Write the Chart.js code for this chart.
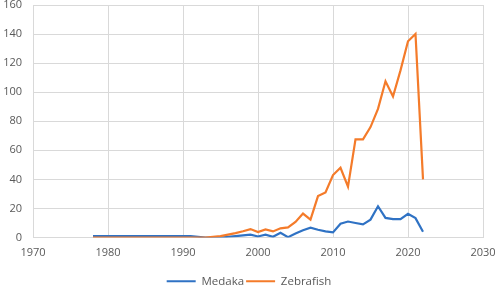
<!DOCTYPE html>
<html>
<head>
<meta charset="utf-8">
<script src="https://cdn.jsdelivr.net/npm/chart.js@4/dist/chart.umd.min.js"></script>
<style>
  html, body { margin: 0; padding: 0; background: #fff; }
  .chart-box { width: 498px; height: 287px; }
</style>
</head>
<body>
<div class="chart-box"><canvas id="chart"></canvas></div>
<script>
const years = [1978, 1979, 1980, 1981, 1982, 1983, 1984, 1985, 1986, 1987, 1988, 1989,
    1990, 1991, 1992, 1993, 1994, 1995, 1996, 1997, 1998, 1999, 2000, 2001, 2002, 2003,
    2004, 2005, 2006, 2007, 2008, 2009, 2010, 2011, 2012, 2013, 2014, 2015, 2016, 2017,
    2018, 2019, 2020, 2021, 2022];

const medaka = [1, 1, 1, 1, 1, 1, 1, 1, 1, 1, 1, 1,
    1, 1, 0.5, 0, 0, 0, 0.5, 1, 1.5, 2, 0.7, 2, 0.5, 3.3,
    0.2, 2.8, 5, 6.7, 5.3, 4.2, 3.5, 9.5, 11, 10, 9, 12.3, 21.5, 13.5,
    12.6, 12.6, 16.3, 13.3, 4];

const zebrafish = [0, 0, 0, 0, 0, 0, 0, 0, 0, 0, 0, 0,
    0, 0, 0, 0, 0.5, 1, 2, 3, 4.3, 5.8, 3.7, 5.6, 4.2, 6.3,
    7, 10.7, 16.5, 12.3, 28.5, 31, 43, 48, 35, 67.5, 67.5, 76, 88.5, 107.5,
    97, 115, 135, 140, 40];

const xTicks = [1970, 1980, 1990, 2000, 2010, 2020, 2030];

const toPoints = (values) => values.map((v, i) => ({ x: years[i], y: v }));

const ctx = document.getElementById('chart').getContext('2d');
const tickFont = { family: 'Open Sans', size: 11 };

new Chart(ctx, {
    type: 'line',
    data: {
        datasets: [
            {
                label: 'Medaka',
                data: toPoints(medaka),
                borderColor: '#2F72C4',
                backgroundColor: '#2F72C4',
                borderWidth: 2.2,
                pointRadius: 0,
                tension: 0,
                order: 1,
            }, {
                label: 'Zebrafish',
                data: toPoints(zebrafish),
                borderColor: '#F47B2A',
                backgroundColor: '#F47B2A',
                borderWidth: 2.2,
                pointRadius: 0,
                tension: 0,
                order: 0,
            },
        ]
    },
    options: {
        responsive: true,
        maintainAspectRatio: false,
        animation: false,
        layout: { padding: { top: 2, right: 2, left: 2, bottom: -10 } },
        scales: {
            x: {
                type: 'linear',
                min: 1970,
                max: 2030,
                afterBuildTicks: (scale) => {
                    scale.ticks = xTicks.map((v) => ({ value: v }));
                },
                afterFit: (scale) => {
                    scale.height = 36;
                    scale.paddingRight = 15;
                },
                grid: { color: '#d9d9d9', drawTicks: false },
                border: { color: '#d9d9d9' },
                ticks: { color: '#595959', font: tickFont, padding: 9, maxRotation: 0, callback: (v) => v },
            },
            y: {
                min: 0,
                max: 160,
                afterFit: (scale) => {
                    scale.width = 31;
                    scale.paddingTop = 5;
                },
                grid: { color: '#d9d9d9', drawTicks: false },
                border: { color: '#d9d9d9' },
                ticks: { color: '#595959', font: tickFont, padding: 11, stepSize: 20 },
            },
        },
        plugins: {
            legend: {
                position: 'bottom',
                labels: {
                    usePointStyle: true,
                    pointStyle: 'line',
                    pointStyleWidth: 29,
                    color: '#595959',
                    font: { family: 'Open Sans', size: 11.5 },
                    padding: 2,
                    sort: (a, b) => a.datasetIndex - b.datasetIndex,
                },
            },
            tooltip: { enabled: false },
        },
    },
});
</script>
</body>
</html>
